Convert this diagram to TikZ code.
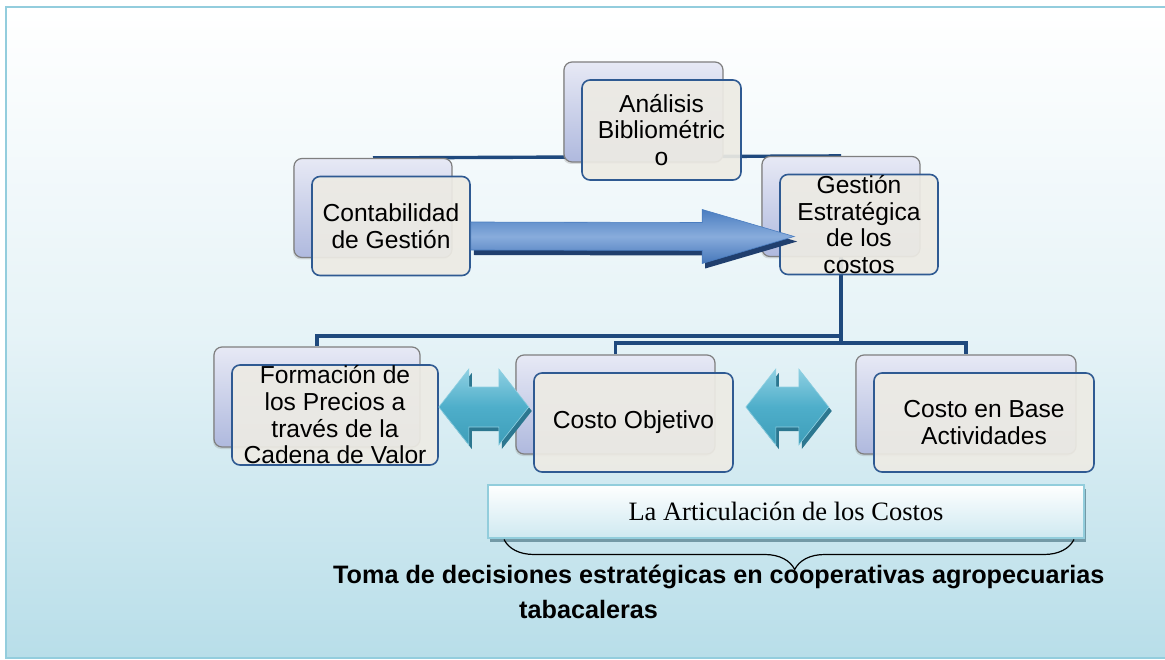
\documentclass[tikz,border=0pt]{standalone}
\usepackage{fontspec}
\setmainfont{Liberation Sans}
\newfontfamily\serifface{Liberation Serif}
\usetikzlibrary{calc,shadows,decorations.pathreplacing}
\definecolor{conn}{HTML}{1F497D}
\definecolor{frontfill}{HTML}{EDEBE4}
\definecolor{frontdraw}{HTML}{2F5A92}
\definecolor{backtop}{HTML}{E7E9F5}
\definecolor{backbot}{HTML}{AFB9DE}
\definecolor{backdraw}{HTML}{7F7F7F}
\definecolor{pagemid}{HTML}{E6F3F7}
\definecolor{pagebot}{HTML}{B8DEE9}
\definecolor{pageedge}{HTML}{93CDDD}
\definecolor{arrdark}{HTML}{203F6E}
\definecolor{arrtop}{HTML}{4A7DC0}
\definecolor{arrmid}{HTML}{88ACDC}
\definecolor{arrbot}{HTML}{4677BA}
\definecolor{tealtop}{HTML}{8FD0E2}
\definecolor{tealmid}{HTML}{4EAECA}
\definecolor{tealbot}{HTML}{3E9EB9}
\definecolor{tealdark}{HTML}{2C7790}
\definecolor{artedge}{HTML}{92CDDC}
\definecolor{artbot}{HTML}{CFE9F1}
\definecolor{artshadow}{HTML}{7399A6}
\pgfdeclarelayer{pagebg}
\pgfdeclarelayer{links}
\pgfsetlayers{pagebg,links,main}
\newcommand\twobox[6]{%
  \node[backbox, minimum width=#4, minimum height=#5] (#1b) at (#2-18,#3-18) {};
  \node[frontbox, minimum width=#4, minimum height=#5] (#1) at (#2,#3) {#6};}
\tikzset{
  backbox/.style={rounded corners=8pt, draw=backdraw, line width=1.2pt,
    top color=backtop, bottom color=backbot, inner sep=0pt,
    drop shadow={shadow xshift=-1pt, shadow yshift=-2pt, opacity=0.25}},
  frontbox/.style={rounded corners=8pt, draw=frontdraw, line width=1.6pt,
    fill=frontfill, fill opacity=0.92, text opacity=1, inner sep=0pt,
    align=center, font=\fontsize{24.6}{26.7}\selectfont},
  link/.style={draw=conn, line width=3.4pt},
  artbox/.style={draw=artedge, line width=2pt, top color=white, bottom color=artbot,
    inner sep=0pt, font=\serifface\fontsize{26.5}{28}\selectfont,
    drop shadow={shadow xshift=2pt, shadow yshift=-4pt, fill=artshadow, opacity=1}},
  pics/dblarrow/.style={code={
    \fill[tealdark] (-#1+3,4) -- (-#1+33,-34) -- (-#1+33,-16) -- (#1-27,-16) -- (#1-27,-34)
      -- (#1+3,4) -- (#1-27,42) -- (#1-27,24) -- (-#1+33,24) -- (-#1+33,42) -- cycle;
    \shade[top color=tealtop, bottom color=tealbot, middle color=tealmid, draw=tealtop, line width=0.6pt]
      (-#1,0) -- (-#1+30,-38) -- (-#1+30,-20) -- (#1-30,-20) -- (#1-30,-38)
      -- (#1,0) -- (#1-30,38) -- (#1-30,20) -- (-#1+30,20) -- (-#1+30,38) -- cycle;
  }}
}
\begin{document}
\begin{tikzpicture}[x=1pt,y=-1pt]
\useasboundingbox (0,0) rectangle (1165,660);
\twobox{a}{661.5}{130}{159}{100}{Análisis\\Bibliométric\\o}
\twobox{c}{391}{226}{158}{99}{Contabilidad\\de Gestión}
\twobox{g}{859}{224.5}{158}{100}{Gestión\\Estratégica\\de los\\costos}
\twobox{f}{335}{415}{206}{100}{Formación de\\los Precios a\\través de la\\Cadena de Valor}
\twobox{o}{633.5}{422.5}{199}{99}{Costo Objetivo}
\twobox{k}{984}{422.5}{220}{99}{Costo en Base\\Actividades}

\begin{pgfonlayer}{pagebg}
  \shade[top color=white, bottom color=pagebot, middle color=pagemid] (6,7) rectangle (1180,658);
  \draw[pageedge, line width=2.5pt] (1180,7) -- (6,7) -- (6,658) -- (1180,658);
\end{pgfonlayer}

\begin{pgfonlayer}{links}
  \draw[link] (ab.center) -- (ab.center |- cb.north);
  \draw[link] (cb.north) -- (gb.north);
  \coordinate (j1) at ($(gb.south)+(0,79)$);
  \coordinate (j2) at ($(gb.south)+(0,86)$);
  \draw[link] (gb.south) -- (j2);
  \draw[link] (j1) -| (fb.north);
  \draw[link] (ob.north) |- (j2) -| (kb.north);
\end{pgfonlayer}

% big arrow
\coordinate (as) at ($(c.east)+(0,10)$);
\coordinate (at) at ($(g.west)+(15,12)$);
\coordinate (ah) at ($(at)+(-92,0)$);
\fill[arrdark] ($(as)+(3,-9)$) -- ($(ah)+(3,-9)$) -- ($(ah)+(3,-22)$) -- ($(at)+(3,5)$)
  -- ($(ah)+(3,32)$) -- ($(ah)+(3,19)$) -- ($(as)+(3,19)$) -- cycle;
\shade[top color=arrtop, bottom color=arrbot, middle color=arrmid, draw=arrtop, line width=0.6pt]
  ($(as)+(0,-14)$) -- ($(ah)+(0,-14)$) -- ($(ah)+(0,-27)$) -- (at)
  -- ($(ah)+(0,27)$) -- ($(ah)+(0,14)$) -- ($(as)+(0,14)$) -- cycle;

% double arrows
\coordinate (d1) at ($(f.east)+(45,-8)$);
\coordinate (d2) at ($(o.east)+(53.5,-15.5)$);
\pic at (d1) {dblarrow=45};
\pic at (d2) {dblarrow=41.5};

% articulation box and brace
\node[artbox, minimum width=596, minimum height=53] (art) at (786,511) {La Articulación de los Costos};
\coordinate (bl) at ($(art.south west)+(17,1)$);
\coordinate (br) at ($(art.south east)+(-11,1)$);
\draw[line width=1.2pt, decorate, decoration={brace, amplitude=30pt, aspect=0.51, mirror}] (bl) -- (br);

\node[anchor=base west, inner sep=0pt, font=\bfseries\fontsize{25.2}{30}\selectfont] (t1) at (333,583)
  {Toma de decisiones estratégicas en cooperativas agropecuarias};
\node[anchor=base west, inner sep=0pt, font=\bfseries\fontsize{25.2}{30}\selectfont] (t2) at (519,618)
  {tabacaleras};
\end{tikzpicture}
\end{document}
